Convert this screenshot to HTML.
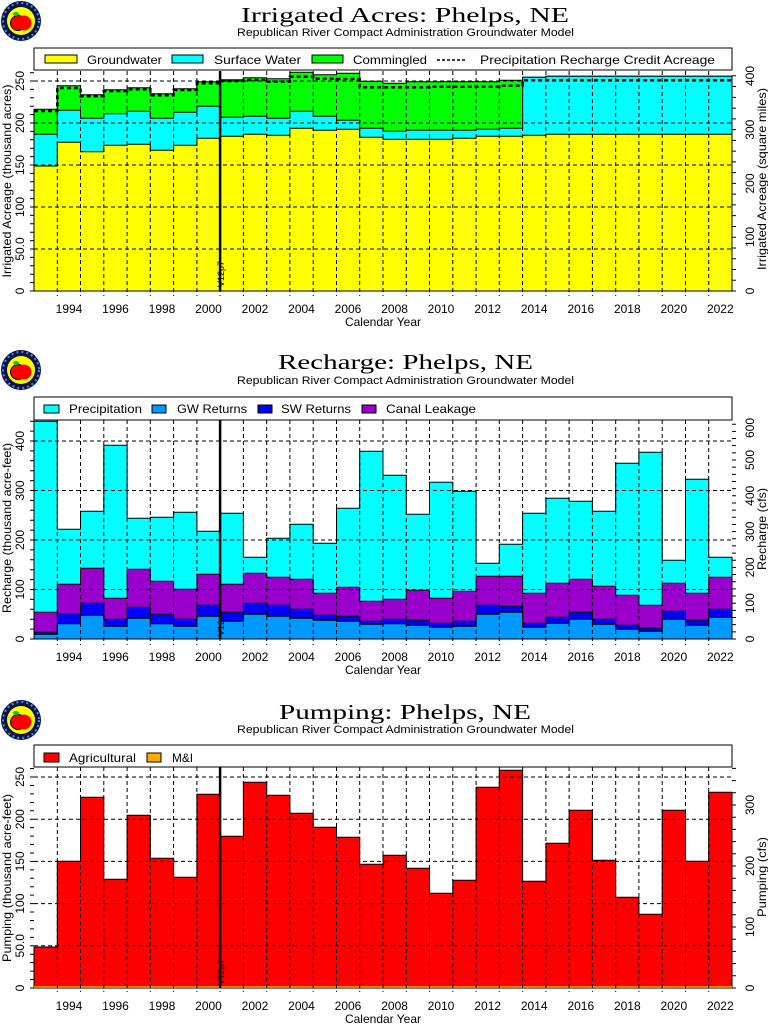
<!DOCTYPE html>
<html><head><meta charset="utf-8"><style>
html,body{margin:0;padding:0;background:#fff}
svg{display:block}
text{font-family:"Liberation Sans",sans-serif;fill:#000}
.t{font-family:"Liberation Serif",serif;font-size:21px}
.s{font-size:11px}
.l{font-size:12px}
.k{font-size:12px}
</style></head><body>
<svg width="768" height="1024" viewBox="0 0 768 1024" xmlns="http://www.w3.org/2000/svg">
<defs>
<path id="vg" d="M57.3 0V225M80.5 0V225M103.8 0V225M127.1 0V225M150.3 0V225M173.6 0V225M196.9 0V225M220.1 0V225M243.4 0V225M266.7 0V225M289.9 0V225M313.2 0V225M336.5 0V225M359.7 0V225M383 0V225M406.3 0V225M429.5 0V225M452.8 0V225M476.1 0V225M499.3 0V225M522.6 0V225M545.9 0V225M569.1 0V225M592.4 0V225M615.7 0V225M638.9 0V225M662.2 0V225M685.5 0V225M708.7 0V225" stroke="#000" stroke-width="1" stroke-dasharray="4 3" fill="none"/>
<g id="logo">
<circle cx="0" cy="0" r="20" fill="#10104a"/>
<circle cx="0" cy="0" r="18" fill="none" stroke="#2aa0e0" stroke-width="2" stroke-dasharray="2 3"/>
<circle cx="0" cy="0" r="14" fill="#ffff00"/>
<circle cx="-3" cy="2" r="7.5" fill="#ff0000" stroke="#000" stroke-width="1"/>
<circle cx="3" cy="2" r="7.5" fill="#ff0000"/>
<ellipse cx="-5" cy="-7" rx="3" ry="2" fill="#00cc00"/>
</g>
<g id="years">
<text x="69" y="0" text-anchor="middle">1994</text><text x="115.5" y="0" text-anchor="middle">1996</text><text x="162" y="0" text-anchor="middle">1998</text><text x="208.5" y="0" text-anchor="middle">2000</text><text x="255" y="0" text-anchor="middle">2002</text><text x="301.5" y="0" text-anchor="middle">2004</text><text x="348" y="0" text-anchor="middle">2006</text><text x="394.6" y="0" text-anchor="middle">2008</text><text x="441" y="0" text-anchor="middle">2010</text><text x="487.7" y="0" text-anchor="middle">2012</text><text x="534.2" y="0" text-anchor="middle">2014</text><text x="580.8" y="0" text-anchor="middle">2016</text><text x="627.3" y="0" text-anchor="middle">2018</text><text x="673.8" y="0" text-anchor="middle">2020</text><text x="720.3" y="0" text-anchor="middle">2022</text>
<text x="383" y="13" text-anchor="middle">Calendar Year</text>
</g>
</defs>

<!-- ================= CHART 1 ================= -->
<use href="#logo" x="21" y="21"/>
<text class="t" x="241" y="22" textLength="328" lengthAdjust="spacingAndGlyphs">Irrigated Acres: Phelps, NE</text>
<text class="s" x="237" y="36" textLength="337" lengthAdjust="spacingAndGlyphs">Republican River Compact Administration Groundwater Model</text>
<rect x="34" y="48" width="698" height="22" fill="#fff" stroke="#000"/>
<rect x="45" y="55" width="32" height="8" fill="#ffff00" stroke="#000"/>
<text class="l" x="87" y="64" textLength="75" lengthAdjust="spacingAndGlyphs">Groundwater</text>
<rect x="172" y="55" width="31" height="8" fill="#00ffff" stroke="#000"/>
<text class="l" x="214" y="64" textLength="87" lengthAdjust="spacingAndGlyphs">Surface Water</text>
<rect x="312" y="55" width="31" height="8" fill="#00ff00" stroke="#000"/>
<text class="l" x="353" y="64" textLength="74" lengthAdjust="spacingAndGlyphs">Commingled</text>
<line x1="437" y1="60" x2="466" y2="60" stroke="#000" stroke-width="1.5" stroke-dasharray="3 2"/>
<text class="l" x="480" y="64" textLength="235" lengthAdjust="spacingAndGlyphs">Precipitation Recharge Credit Acreage</text>

<g stroke="#000" stroke-width="1">
<path fill="#00ff00" d="M34 291V109.3H57.3V85.7H80.5V94.7H103.8V89.7H127.1V87.7H150.3V93.7H173.6V88.7H196.9V81.7H220.1V79.7H243.4V77.7H266.7V78.7H289.9V72.3H313.2V74.7H336.5V73.3H359.7V81.3H383V83.3H406.3V81.7H429.5V81.7H452.8V81.7H476.1V81.7H499.3V80.3H522.6V77.3H545.9V76.3H732V291Z"/>
<path fill="#00ffff" d="M34 291V134.3H57.3V110.3H80.5V118.3H103.8V113.7H127.1V111.3H150.3V118.3H173.6V112.3H196.9V106.3H220.1V117.3H243.4V116.3H266.7V118.3H289.9V111.3H313.2V116.3H336.5V120.3H359.7V128.3H383V131.3H406.3V130.3H452.8V130.3H476.1V129.3H499.3V128.3H522.6V77.3H545.9V76.3H732V291Z"/>
<path fill="#ffff00" d="M34 291V166H57.3V142.3H80.5V151.7H103.8V145.3H127.1V144.3H150.3V150.3H173.6V145.3H196.9V138.3H220.1V136.3H243.4V134.3H266.7V135.3H289.9V128.3H313.2V130.3H336.5V129.3H359.7V137.3H383V139.3H452.8V138.3H476.1V136.3H522.6V135.3H545.9V134.3H732V291Z"/>
</g>
<use href="#vg" y="71"/>
<path d="M34 249H732M34 207H732M34 165H732M34 123H732M34 81H732" stroke="#000" stroke-dasharray="4 3" fill="none"/>
<path d="M34 111H57.3V88H80.5V96.3H103.8V91H127.1V89.3H150.3V95.3H173.6V90H196.9V83.3H220.1V81H243.4V80H266.7V81.7H289.9V76.7H313.2V78.7H336.5V79H359.7V87.3H429.5V86.7H499.3V85.7H522.6V80.3H732" stroke="#000" stroke-width="2.5" stroke-dasharray="4 3" fill="none"/>
<line x1="220.1" y1="71" x2="220.1" y2="291" stroke="#000" stroke-width="2.5"/>
<text x="0" y="0" font-size="9" transform="translate(224 287) rotate(-90)">V12p7</text>
<line x1="32" y1="291.5" x2="32" y2="71" stroke="#000" stroke-width="4" stroke-dasharray="1 7.4"/>
<line x1="734" y1="291.5" x2="734" y2="71" stroke="#000" stroke-width="4" stroke-dasharray="1 9.76"/>
<g class="k" text-anchor="middle">
<text transform="translate(24 291) rotate(-90)">0</text>
<text transform="translate(24 249) rotate(-90)">50.0</text>
<text transform="translate(24 207) rotate(-90)">100</text>
<text transform="translate(24 165) rotate(-90)">150</text>
<text transform="translate(24 123) rotate(-90)">200</text>
<text transform="translate(24 81) rotate(-90)">250</text>
<text transform="translate(754 291) rotate(-90)">0</text>
<text transform="translate(754 237) rotate(-90)">100</text>
<text transform="translate(754 183.5) rotate(-90)">200</text>
<text transform="translate(754 129.7) rotate(-90)">300</text>
<text transform="translate(754 76) rotate(-90)">400</text>
<text transform="translate(11 181) rotate(-90)" textLength="193" lengthAdjust="spacingAndGlyphs">Irrigated Acreage (thousand acres)</text>
<text transform="translate(766 179) rotate(-90)" textLength="182" lengthAdjust="spacingAndGlyphs">Irrigated Acreage (square miles)</text>
</g>
<use href="#years" class="k" y="313"/>

<!-- ================= CHART 2 ================= -->
<use href="#logo" x="21" y="370"/>
<text class="t" x="278" y="369" textLength="255" lengthAdjust="spacingAndGlyphs">Recharge: Phelps, NE</text>
<text class="s" x="237" y="384" textLength="337" lengthAdjust="spacingAndGlyphs">Republican River Compact Administration Groundwater Model</text>
<rect x="34" y="397" width="698" height="23" fill="#fff" stroke="#000"/>
<rect x="44" y="405" width="15" height="8" fill="#00ffff" stroke="#000"/>
<text class="l" x="69" y="413" textLength="73" lengthAdjust="spacingAndGlyphs">Precipitation</text>
<rect x="152" y="405" width="14" height="8" fill="#0099ff" stroke="#000"/>
<text class="l" x="177" y="413" textLength="70" lengthAdjust="spacingAndGlyphs">GW Returns</text>
<rect x="258" y="405" width="14" height="8" fill="#0000ff" stroke="#000"/>
<text class="l" x="281" y="413" textLength="70" lengthAdjust="spacingAndGlyphs">SW Returns</text>
<rect x="362" y="405" width="14" height="8" fill="#9900cc" stroke="#000"/>
<text class="l" x="386" y="413" textLength="90" lengthAdjust="spacingAndGlyphs">Canal Leakage</text>

<g stroke="#000" stroke-width="1">
<path fill="#00ffff" d="M34 639V421.3H57.3V529.3H80.5V511.3H103.8V445.3H127.1V518.3H150.3V517.3H173.6V512.3H196.9V531.3H220.1V513.3H243.4V557.3H266.7V538.3H289.9V524.3H313.2V543.3H336.5V508.3H359.7V451.3H383V475.3H406.3V514.3H429.5V482.3H452.8V491.3H476.1V563.3H499.3V544.3H522.6V513.3H545.9V498.3H569.1V501.3H592.4V511.3H615.7V463.3H638.9V452.3H662.2V560.3H685.5V479.3H708.7V557.3H732V639Z"/>
<path fill="#9900cc" d="M34 639V612.3H57.3V584.3H80.5V568.3H103.8V598.3H127.1V569.3H150.3V581.3H173.6V589.3H196.9V574.3H220.1V584.3H243.4V573.3H266.7V577.3H289.9V579.3H313.2V593.3H336.5V587.3H359.7V601.3H383V599.3H406.3V590.3H429.5V598.3H452.8V591.3H476.1V576.3H499.3V576.3H522.6V593.3H545.9V583.3H569.1V579.3H592.4V586.3H615.7V595.3H638.9V605.3H662.2V583.3H685.5V593.3H708.7V577.3H732V639Z"/>
<path fill="#0000ff" d="M34 639V632.3H57.3V613.7H80.5V603.3H103.8V619.3H127.1V607.3H150.3V614.3H173.6V619.3H196.9V605.3H220.1V612.3H243.4V603.3H266.7V605.3H289.9V609.3H313.2V615.3H336.5V616.3H359.7V621.3H383V619.3H406.3V620.3H429.5V623.3H452.8V621.3H476.1V605.3H499.3V606.3H522.6V623.3H545.9V617.3H569.1V612.3H592.4V619.3H615.7V625.3H638.9V628.3H662.2V611.3H685.5V620.3H708.7V609.3H732V639Z"/>
<path fill="#0099ff" d="M34 639V634.3H57.3V623.7H80.5V615.3H103.8V626.3H127.1V618.3H150.3V623.7H173.6V626.3H196.9V616.3H220.1V621.3H243.4V614.3H266.7V616.3H289.9V618.3H313.2V620.3H336.5V621.3H359.7V624.3H383V623.7H406.3V625.3H429.5V627.3H452.8V626.3H476.1V614.3H499.3V612.3H522.6V627.3H545.9V623.3H569.1V619.3H592.4V624.3H615.7V629.3H638.9V631.3H662.2V619.3H685.5V625.3H708.7V617.3H732V639Z"/>
</g>
<use href="#vg" y="420"/>
<path d="M34 589.5H732M34 540H732M34 490.5H732M34 441H732" stroke="#000" stroke-dasharray="4 3" fill="none"/>
<line x1="220.1" y1="420" x2="220.1" y2="639" stroke="#000" stroke-width="2.5"/>
<text x="0" y="0" font-size="9" transform="translate(224 636) rotate(-90)">V12p7</text>
<line x1="32" y1="639.5" x2="32" y2="420" stroke="#000" stroke-width="4" stroke-dasharray="1 8.9"/>
<line x1="734" y1="639.5" x2="734" y2="420" stroke="#000" stroke-width="4" stroke-dasharray="1 6.16"/>
<g class="k" text-anchor="middle">
<text transform="translate(24 639) rotate(-90)">0</text>
<text transform="translate(24 589.5) rotate(-90)">100</text>
<text transform="translate(24 540) rotate(-90)">200</text>
<text transform="translate(24 490.5) rotate(-90)">300</text>
<text transform="translate(24 441) rotate(-90)">400</text>
<text transform="translate(754 639) rotate(-90)">0</text>
<text transform="translate(754 603.2) rotate(-90)">100</text>
<text transform="translate(754 567.4) rotate(-90)">200</text>
<text transform="translate(754 531.6) rotate(-90)">300</text>
<text transform="translate(754 495.8) rotate(-90)">400</text>
<text transform="translate(754 460) rotate(-90)">500</text>
<text transform="translate(754 428) rotate(-90)">600</text>
<text transform="translate(11 528) rotate(-90)" textLength="170" lengthAdjust="spacingAndGlyphs">Recharge (thousand acre-feet)</text>
<text transform="translate(766 529) rotate(-90)" textLength="82" lengthAdjust="spacingAndGlyphs">Recharge (cfs)</text>
</g>
<use href="#years" class="k" y="661"/>

<!-- ================= CHART 3 ================= -->
<use href="#logo" x="21" y="720"/>
<text class="t" x="279" y="719" textLength="252" lengthAdjust="spacingAndGlyphs">Pumping: Phelps, NE</text>
<text class="s" x="237" y="733" textLength="337" lengthAdjust="spacingAndGlyphs">Republican River Compact Administration Groundwater Model</text>
<rect x="34" y="745" width="698" height="22" fill="#fff" stroke="#000"/>
<rect x="44" y="753" width="15" height="9" fill="#ff0000" stroke="#000"/>
<text class="l" x="69" y="762" textLength="67" lengthAdjust="spacingAndGlyphs">Agricultural</text>
<rect x="147" y="753" width="14" height="9" fill="#ffaa00" stroke="#000"/>
<text class="l" x="172" y="762" textLength="21" lengthAdjust="spacingAndGlyphs">M&amp;I</text>

<path fill="#ff0000" stroke="#000" d="M34 988V947H57.3V861.3H80.5V797.3H103.8V879.3H127.1V815.3H150.3V858.3H173.6V877.3H196.9V794.3H220.1V836.3H243.4V782.3H266.7V795.3H289.9V813.3H313.2V827.3H336.5V837.3H359.7V864.3H383V855.3H406.3V868.3H429.5V893.3H452.8V880.3H476.1V787.3H499.3V770.3H522.6V881.3H545.9V843.3H569.1V810.3H592.4V860.3H615.7V897.3H638.9V914.3H662.2V810.3H685.5V861.3H708.7V792.3H732V988Z"/>
<line x1="34" y1="987" x2="732" y2="987" stroke="#ffaa00" stroke-width="1.5"/>
<use href="#vg" y="767"/>
<path d="M34 945.8H732M34 903.6H732M34 861.4H732M34 819.2H732M34 777H732" stroke="#000" stroke-dasharray="4 3" fill="none"/>
<line x1="220.1" y1="767" x2="220.1" y2="988" stroke="#000" stroke-width="2.5"/>
<text x="0" y="0" font-size="9" transform="translate(224 985) rotate(-90)">V12p7</text>
<line x1="32" y1="988.5" x2="32" y2="767" stroke="#000" stroke-width="4" stroke-dasharray="1 7.44"/>
<line x1="734" y1="988.5" x2="734" y2="767" stroke="#000" stroke-width="4" stroke-dasharray="1 11.2"/>
<g class="k" text-anchor="middle">
<text transform="translate(24 988) rotate(-90)">0</text>
<text transform="translate(24 945.8) rotate(-90)">50.0</text>
<text transform="translate(24 903.6) rotate(-90)">100</text>
<text transform="translate(24 861.4) rotate(-90)">150</text>
<text transform="translate(24 819.2) rotate(-90)">200</text>
<text transform="translate(24 777) rotate(-90)">250</text>
<text transform="translate(754 988) rotate(-90)">0</text>
<text transform="translate(754 927) rotate(-90)">100</text>
<text transform="translate(754 866) rotate(-90)">200</text>
<text transform="translate(754 805) rotate(-90)">300</text>
<text transform="translate(11 878) rotate(-90)" textLength="168" lengthAdjust="spacingAndGlyphs">Pumping (thousand acre-feet)</text>
<text transform="translate(766 877) rotate(-90)" textLength="80" lengthAdjust="spacingAndGlyphs">Pumping (cfs)</text>
</g>
<use href="#years" class="k" y="1010"/>
</svg>
</body></html>
